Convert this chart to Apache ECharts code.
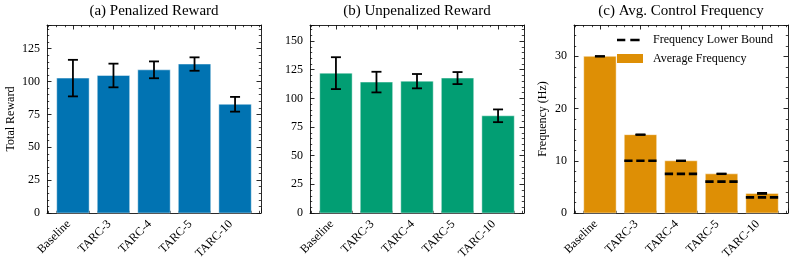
<!DOCTYPE html>
<html><head><meta charset="utf-8">
<script src="https://cdn.jsdelivr.net/npm/echarts@6/dist/echarts.min.js"></script>
<style>html,body{margin:0;padding:0;background:#fff}#c{width:794px;height:267px}</style>
</head><body><div id="c"></div>
<script>
const categories = ['Baseline', 'TARC-3', 'TARC-4', 'TARC-5', 'TARC-10'];
const penalizedMean = [102.6, 104.6, 108.9, 113.3, 82.7];
const penalizedStd = [13.9, 9.0, 6.4, 5.1, 5.6];
const unpenalizedMean = [122.0, 114.2, 115.0, 117.7, 84.8];
const unpenalizedStd = [13.9, 9.0, 6.25, 5.25, 5.55];
const freqMean = [30, 15, 10, 7.5, 3.75];
const freqStd = [0.06, 0.06, 0.06, 0.06, 0.1];
const freqLowerBound = [null, 10, 7.5, 6, 3];
const titles = ['(a) Penalized Reward', '(b) Unpenalized Reward', '(c) Avg. Control Frequency'];
const yNames = ['Total Reward', '', 'Frequency (Hz)'];
const yMax = [143, 164, 36];
const yInterval = [25, 25, 10];
const colors = ['#0173B2', '#029E73', '#DE8F05'];

const FONT = 'Liberation Serif';
const gridLefts = [47, 310, 574];
const chart = echarts.init(document.getElementById('c'), null, {renderer: 'canvas'});

const grids = [], xAxes = [], yAxes = [], series = [], titleOpts = [];
const lineColor = '#111';
function catFmt(v) {
  const r = Math.round(v);
  return (Math.abs(v - r) < 1e-6 && r >= 0 && r < categories.length) ? categories[r] : '';
}
const panels = [
  {mean: penalizedMean, std: penalizedStd},
  {mean: unpenalizedMean, std: unpenalizedStd},
  {mean: freqMean, std: freqStd}
];
panels.forEach((p, k) => {
  grids.push({left: gridLefts[k], top: 25, width: 214, height: 188, outerBoundsMode: 'none', containLabel: false});
  titleOpts.push({text: titles[k], left: gridLefts[k] + 107, top: 4, textAlign: 'center', padding: 0,
    textStyle: {fontFamily: FONT, fontSize: 15, fontWeight: 'normal', color: '#000'}});
  const xCommon = {type: 'value', gridIndex: k, min: -0.64, max: 4.64, splitLine: {show: false},
    axisLine: {show: true, onZero: false, lineStyle: {color: lineColor, width: 0.9}},
    axisTick: {show: true, inside: true, length: 4.5, lineStyle: {color: lineColor, width: 0.9}},
    minorTick: {show: true, splitNumber: 5, length: 2.2, lineStyle: {color: lineColor, width: 0.8}},
    minorSplitLine: {show: false}};
  xAxes.push(Object.assign({}, xCommon, {position: 'bottom',
    axisLabel: {show: true, rotate: 45, margin: 5, padding: [0, 6, 0, 0], formatter: catFmt,
      fontFamily: FONT, fontSize: 12, color: '#000', hideOverlap: false, showMinLabel: true, showMaxLabel: true}}));
  xAxes.push(Object.assign({}, xCommon, {position: 'top', axisLabel: {show: false}}));
  const yCommon = {type: 'value', gridIndex: k, min: 0, max: yMax[k], interval: yInterval[k], splitLine: {show: false},
    axisLine: {show: true, onZero: false, lineStyle: {color: lineColor, width: 0.9}},
    axisTick: {show: true, inside: true, length: 4.5, lineStyle: {color: lineColor, width: 0.9}},
    minorTick: {show: true, splitNumber: 5, length: 2.2, lineStyle: {color: lineColor, width: 0.8}},
    minorSplitLine: {show: false}};
  yAxes.push(Object.assign({}, yCommon, {position: 'left',
    name: yNames[k], nameLocation: 'middle', nameGap: k === 0 ? 30 : 25,
    nameTextStyle: {fontFamily: FONT, fontSize: 12, color: '#000'},
    axisLabel: {show: true, margin: 7, fontFamily: FONT, fontSize: 12, color: '#000',
      formatter: v => (Math.abs(v % yInterval[k]) < 1e-6 ? String(v) : '')}}));
  yAxes.push(Object.assign({}, yCommon, {position: 'right', axisLabel: {show: false}}));

  const data = p.mean.map((m, i) => [i, m, p.std[i]]);
  series.push({
    type: 'custom', name: k === 2 ? 'Average Frequency' : 'bars' + k,
    xAxisIndex: 2 * k, yAxisIndex: 2 * k, data: data,
    itemStyle: {color: colors[k]},
    renderItem: (params, api) => {
      const x = api.value(0), y = api.value(1);
      const a = api.coord([x - 0.4, y]);
      const b = api.coord([x + 0.4, 0]);
      return {type: 'rect', shape: {x: a[0], y: a[1], width: b[0] - a[0], height: b[1] - a[1]},
        style: {fill: colors[k], stroke: 'rgba(255,255,255,0.45)', lineWidth: 1}};
    }, z: 2
  });
  series.push({
    type: 'custom', name: 'err' + k, xAxisIndex: 2 * k, yAxisIndex: 2 * k, data: data,
    renderItem: (params, api) => {
      const x = api.value(0), y = api.value(1), s = api.value(2);
      const t = api.coord([x, y + s]);
      const b = api.coord([x, y - s]);
      const st = {stroke: '#000', lineWidth: 1.8, fill: null};
      return {type: 'group', children: [
        {type: 'line', shape: {x1: t[0], y1: t[1], x2: b[0], y2: b[1]}, style: st},
        {type: 'line', shape: {x1: t[0] - 5, y1: t[1], x2: t[0] + 5, y2: t[1]}, style: st},
        {type: 'line', shape: {x1: b[0] - 5, y1: b[1], x2: b[0] + 5, y2: b[1]}, style: st}
      ]};
    }, z: 4
  });
});

const lbData = freqLowerBound.map((v, i) => [i, v]).filter(d => d[1] !== null);
series.push({
  type: 'custom', name: 'Frequency Lower Bound', xAxisIndex: 4, yAxisIndex: 4, data: lbData,
  itemStyle: {color: '#000'},
  renderItem: (params, api) => {
    const x = api.value(0), y = api.value(1);
    const a = api.coord([x - 0.4, y]);
    const b = api.coord([x + 0.4, y]);
    return {type: 'line', shape: {x1: a[0], y1: a[1], x2: b[0], y2: b[1]},
      style: {stroke: '#000', lineWidth: 2.6, lineDash: [8.3, 3.7], fill: null}};
  }, z: 3
});

chart.setOption({
  animation: false,
  backgroundColor: '#fff',
  title: titleOpts,
  grid: grids,
  xAxis: xAxes,
  yAxis: yAxes,
  legend: {
    orient: 'vertical', left: 617, top: 34, itemWidth: 26, itemHeight: 9, itemGap: 6.5,
    selectedMode: false, padding: 0,
    textStyle: {fontFamily: FONT, fontSize: 12, color: '#000', lineHeight: 12, padding: [0, 0, 0, 5]},
    data: [
      {name: 'Frequency Lower Bound', icon: 'path://M0,0h0.01v0.01h-0.01z M0,3.2h8.3v2.6h-8.3z M13.3,3.2h9.3v2.6h-9.3z M25.99,8.99h0.01v0.01h-0.01z',
        itemStyle: {color: '#000'}},
      {name: 'Average Frequency', icon: 'rect', itemStyle: {color: colors[2]}}
    ]
  },
  series: series
});
</script>
</body></html>
